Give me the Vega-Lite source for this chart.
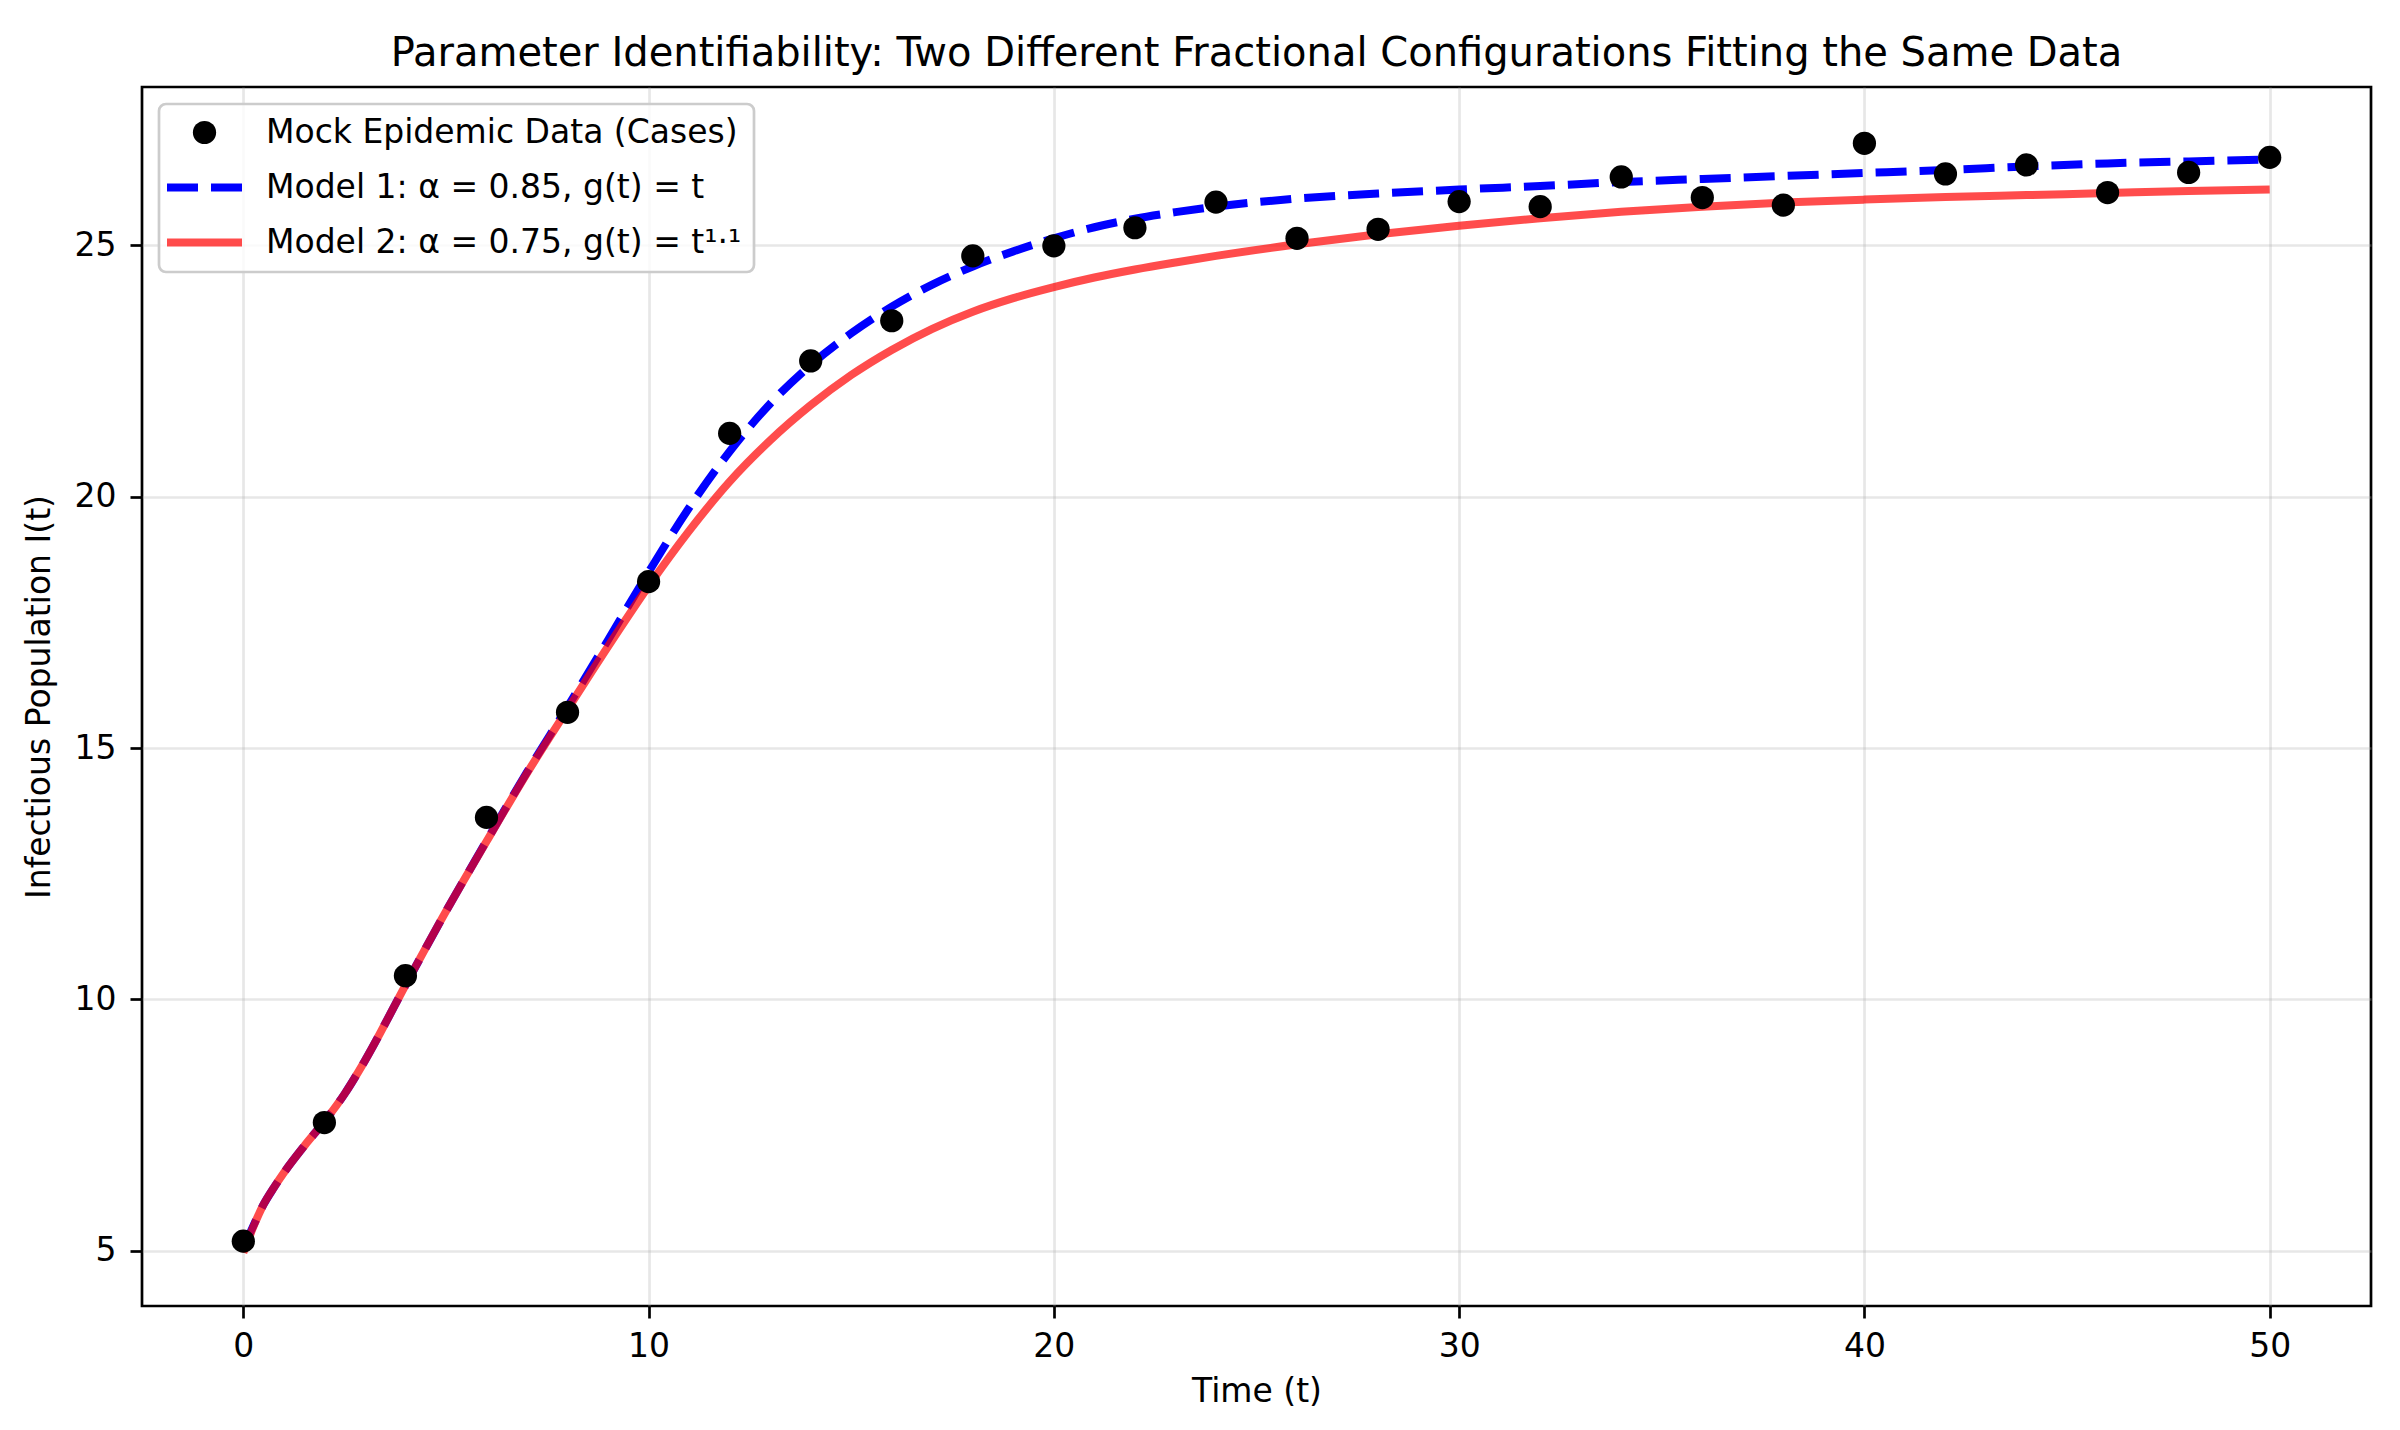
{
  "$schema": "https://vega.github.io/schema/vega-lite/v6.json",
  "width": 2229,
  "height": 1219,
  "autosize": {"type": "none"},
  "padding": {"left": 142, "top": 87, "right": 29, "bottom": 124},
  "background": "white",
  "title": {
    "text": "Parameter Identifiability: Two Different Fractional Configurations Fitting the Same Data",
    "fontSize": 40,
    "fontWeight": "normal",
    "font": "DejaVu Sans",
    "color": "black",
    "anchor": "middle",
    "baseline": "alphabetic",
    "offset": -19
  },
  "datasets": {
    "obs": [
      {"t": 0, "I": 5.19, "series": "obs"},
      {"t": 2, "I": 7.55, "series": "obs"},
      {"t": 4, "I": 10.47, "series": "obs"},
      {"t": 6, "I": 13.62, "series": "obs"},
      {"t": 8, "I": 15.71, "series": "obs"},
      {"t": 10, "I": 18.31, "series": "obs"},
      {"t": 12, "I": 21.26, "series": "obs"},
      {"t": 14, "I": 22.7, "series": "obs"},
      {"t": 16, "I": 23.5, "series": "obs"},
      {"t": 18, "I": 24.79, "series": "obs"},
      {"t": 20, "I": 24.99, "series": "obs"},
      {"t": 22, "I": 25.35, "series": "obs"},
      {"t": 24, "I": 25.86, "series": "obs"},
      {"t": 26, "I": 25.14, "series": "obs"},
      {"t": 28, "I": 25.32, "series": "obs"},
      {"t": 30, "I": 25.87, "series": "obs"},
      {"t": 32, "I": 25.77, "series": "obs"},
      {"t": 34, "I": 26.36, "series": "obs"},
      {"t": 36, "I": 25.95, "series": "obs"},
      {"t": 38, "I": 25.8, "series": "obs"},
      {"t": 40, "I": 27.03, "series": "obs"},
      {"t": 42, "I": 26.42, "series": "obs"},
      {"t": 44, "I": 26.6, "series": "obs"},
      {"t": 46, "I": 26.05, "series": "obs"},
      {"t": 48, "I": 26.45, "series": "obs"},
      {"t": 50, "I": 26.75, "series": "obs"}
    ],
    "curves": [
      {"t": 0, "I": 5.05, "series": "m1"},
      {"t": 0.25, "I": 5.5, "series": "m1"},
      {"t": 0.5, "I": 5.92, "series": "m1"},
      {"t": 0.75, "I": 6.25, "series": "m1"},
      {"t": 1, "I": 6.55, "series": "m1"},
      {"t": 1.5, "I": 7.08, "series": "m1"},
      {"t": 2, "I": 7.57, "series": "m1"},
      {"t": 2.5, "I": 8.12, "series": "m1"},
      {"t": 3, "I": 8.78, "series": "m1"},
      {"t": 4, "I": 10.28, "series": "m1"},
      {"t": 5, "I": 11.75, "series": "m1"},
      {"t": 6, "I": 13.15, "series": "m1"},
      {"t": 7, "I": 14.52, "series": "m1"},
      {"t": 8, "I": 15.82, "series": "m1"},
      {"t": 9, "I": 17.15, "series": "m1"},
      {"t": 10, "I": 18.5, "series": "m1"},
      {"t": 11, "I": 19.78, "series": "m1"},
      {"t": 12, "I": 20.9, "series": "m1"},
      {"t": 13, "I": 21.85, "series": "m1"},
      {"t": 14, "I": 22.62, "series": "m1"},
      {"t": 15, "I": 23.25, "series": "m1"},
      {"t": 16, "I": 23.78, "series": "m1"},
      {"t": 17, "I": 24.22, "series": "m1"},
      {"t": 18, "I": 24.58, "series": "m1"},
      {"t": 19, "I": 24.88, "series": "m1"},
      {"t": 20, "I": 25.14, "series": "m1"},
      {"t": 21, "I": 25.36, "series": "m1"},
      {"t": 22, "I": 25.53, "series": "m1"},
      {"t": 23, "I": 25.66, "series": "m1"},
      {"t": 24, "I": 25.77, "series": "m1"},
      {"t": 26, "I": 25.93, "series": "m1"},
      {"t": 28, "I": 26.03, "series": "m1"},
      {"t": 30, "I": 26.11, "series": "m1"},
      {"t": 32, "I": 26.18, "series": "m1"},
      {"t": 34, "I": 26.26, "series": "m1"},
      {"t": 36, "I": 26.32, "series": "m1"},
      {"t": 38, "I": 26.38, "series": "m1"},
      {"t": 40, "I": 26.44, "series": "m1"},
      {"t": 42, "I": 26.5, "series": "m1"},
      {"t": 44, "I": 26.57, "series": "m1"},
      {"t": 46, "I": 26.63, "series": "m1"},
      {"t": 48, "I": 26.67, "series": "m1"},
      {"t": 50, "I": 26.71, "series": "m1"},
      {"t": 0, "I": 4.96, "series": "m2"},
      {"t": 0.25, "I": 5.48, "series": "m2"},
      {"t": 0.5, "I": 5.92, "series": "m2"},
      {"t": 0.75, "I": 6.25, "series": "m2"},
      {"t": 1, "I": 6.55, "series": "m2"},
      {"t": 1.5, "I": 7.08, "series": "m2"},
      {"t": 2, "I": 7.57, "series": "m2"},
      {"t": 2.5, "I": 8.12, "series": "m2"},
      {"t": 3, "I": 8.78, "series": "m2"},
      {"t": 4, "I": 10.28, "series": "m2"},
      {"t": 5, "I": 11.75, "series": "m2"},
      {"t": 6, "I": 13.14, "series": "m2"},
      {"t": 7, "I": 14.5, "series": "m2"},
      {"t": 8, "I": 15.77, "series": "m2"},
      {"t": 9, "I": 17.02, "series": "m2"},
      {"t": 10, "I": 18.22, "series": "m2"},
      {"t": 11, "I": 19.32, "series": "m2"},
      {"t": 12, "I": 20.3, "series": "m2"},
      {"t": 13, "I": 21.12, "series": "m2"},
      {"t": 14, "I": 21.82, "series": "m2"},
      {"t": 15, "I": 22.42, "series": "m2"},
      {"t": 16, "I": 22.92, "series": "m2"},
      {"t": 17, "I": 23.34, "series": "m2"},
      {"t": 18, "I": 23.68, "series": "m2"},
      {"t": 19, "I": 23.95, "series": "m2"},
      {"t": 20, "I": 24.17, "series": "m2"},
      {"t": 21, "I": 24.36, "series": "m2"},
      {"t": 22, "I": 24.52, "series": "m2"},
      {"t": 23, "I": 24.66, "series": "m2"},
      {"t": 24, "I": 24.79, "series": "m2"},
      {"t": 26, "I": 25.02, "series": "m2"},
      {"t": 28, "I": 25.22, "series": "m2"},
      {"t": 30, "I": 25.39, "series": "m2"},
      {"t": 32, "I": 25.54, "series": "m2"},
      {"t": 34, "I": 25.67, "series": "m2"},
      {"t": 36, "I": 25.77, "series": "m2"},
      {"t": 38, "I": 25.85, "series": "m2"},
      {"t": 40, "I": 25.91, "series": "m2"},
      {"t": 42, "I": 25.96, "series": "m2"},
      {"t": 44, "I": 26.0, "series": "m2"},
      {"t": 46, "I": 26.04, "series": "m2"},
      {"t": 48, "I": 26.08, "series": "m2"},
      {"t": 50, "I": 26.11, "series": "m2"}
    ]
  },
  "encoding": {
    "x": {
      "field": "t",
      "type": "quantitative",
      "scale": {"domain": [-2.5, 52.5], "nice": false, "zero": false},
      "axis": {"values": [0, 10, 20, 30, 40, 50], "title": "Time (t)"}
    },
    "y": {
      "field": "I",
      "type": "quantitative",
      "scale": {"domain": [3.9, 28.15], "nice": false, "zero": false},
      "axis": {"values": [5, 10, 15, 20, 25], "title": "Infectious Population I(t)"}
    },
    "color": {
      "field": "series",
      "type": "nominal",
      "scale": {"domain": ["obs", "m1", "m2"], "range": ["black", "blue", "red"]},
      "legend": {
        "title": null,
        "orient": "top-left",
        "offset": 17,
        "columns": 1,
        "padding": 12,
        "fillColor": "rgba(255,255,255,0.8)",
        "strokeColor": "#cccccc",
        "cornerRadius": 7,
        "labelFont": "DejaVu Sans",
        "labelFontSize": 33,
        "labelColor": "black",
        "labelLimit": 1000,
        "labelOffset": 45,
        "symbolOffset": 17,
        "rowPadding": 21,
        "labelExpr": "datum.value == 'obs' ? 'Mock Epidemic Data (Cases)' : datum.value == 'm1' ? 'Model 1: α = 0.85, g(t) = t' : 'Model 2: α = 0.75, g(t) = t¹·¹'",
        "encode": {
          "legend": {
            "update": {"strokeWidth": {"value": 2.7}}
          },
          "symbols": {
            "update": {
              "shape": {"signal": "datum.value == 'obs' ? 'circle' : 'stroke'"},
              "size": {"signal": "datum.value == 'obs' ? 540 : 5625"},
              "strokeWidth": {"signal": "datum.value == 'obs' ? 0 : 8"},
              "fill": {"signal": "datum.value == 'obs' ? 'black' : 'transparent'"},
              "stroke": {"signal": "datum.value == 'm1' ? 'blue' : datum.value == 'm2' ? 'red' : 'black'"},
              "strokeDash": {"signal": "datum.value == 'm1' ? [31, 13] : [1, 0]"},
              "opacity": {"signal": "datum.value == 'm2' ? 0.7 : 1"}
            }
          }
        }
      }
    }
  },
  "layer": [
    {
      "data": {"name": "curves"},
      "transform": [{"filter": "datum.series == 'm1'"}],
      "mark": {"type": "line", "strokeWidth": 8, "strokeDash": [31, 13], "interpolate": "monotone"}
    },
    {
      "data": {"name": "curves"},
      "transform": [{"filter": "datum.series == 'm2'"}],
      "mark": {"type": "line", "strokeWidth": 8, "opacity": 0.7, "interpolate": "monotone"}
    },
    {
      "data": {"name": "obs"},
      "mark": {"type": "point", "shape": "circle", "filled": true, "size": 540, "opacity": 1}
    }
  ],
  "config": {
    "font": "DejaVu Sans",
    "view": {"stroke": "black", "strokeWidth": 2.7},
    "axis": {
      "domain": false,
      "grid": true,
      "gridColor": "#b0b0b0",
      "gridOpacity": 0.3,
      "gridWidth": 2.7,
      "tickColor": "black",
      "tickWidth": 2.7,
      "tickSize": 12,
      "labelFont": "DejaVu Sans",
      "labelFontSize": 33,
      "labelColor": "black",
      "labelPadding": 12,
      "titleFont": "DejaVu Sans",
      "titleFontSize": 33,
      "titleFontWeight": "normal",
      "titleColor": "black"
    },
    "axisX": {"titlePadding": 12},
    "axisY": {"labelPadding": 14, "titlePadding": 18}
  }
}
